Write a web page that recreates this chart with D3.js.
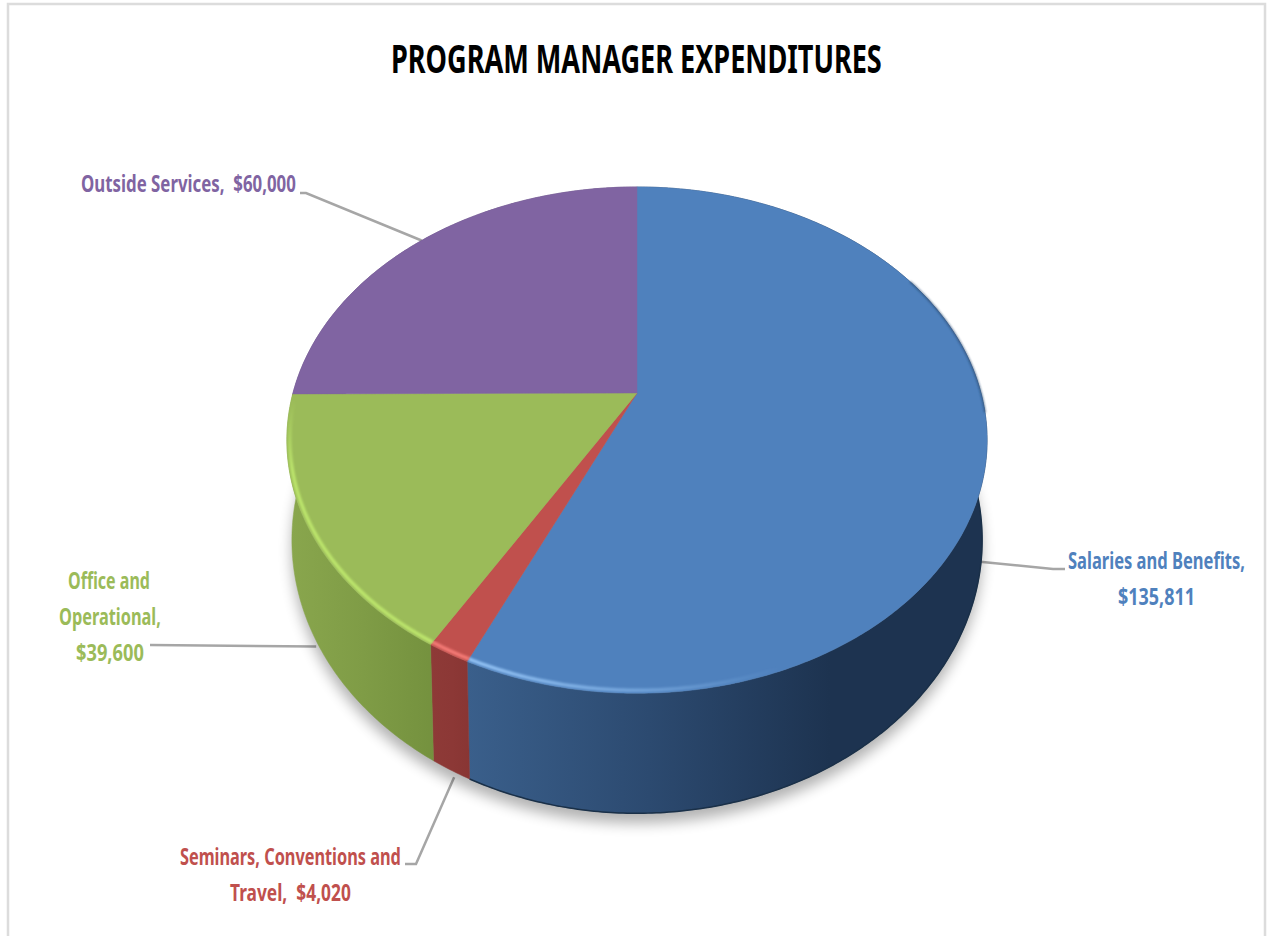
<!DOCTYPE html>
<meta charset="utf-8" />

<!-- Load d3.js -->
<script src="https://d3js.org/d3.v7.js"></script>

<style>
    body { margin: 0; background: #fff; }
    text { font-family: 'Noto Sans', sans-serif; font-weight: 700; white-space: pre; }
</style>

<!-- Create a div where the graph will take place -->
<div id="my_dataviz"></div>

<script>
    // the data, clockwise from 12 o'clock
    const categories = ['Salaries and Benefits', 'Seminars, Conventions and Travel', 'Office and Operational', 'Outside Services']
    const amounts = [135811, 4020, 39600, 60000]
    const labelLines = [
        ['Salaries and Benefits,', '$135,811'],
        ['Seminars, Conventions and', 'Travel,  $4,020'],
        ['Office and', 'Operational,', '$39,600'],
        ['Outside Services,  $60,000']
    ]
    const chartTitle = 'PROGRAM MANAGER EXPENDITURES'

    // colours of each slice: top face, rim highlight, side wall left -> right
    const topColors = ['#4f81bd', '#c0504d', '#9bbb59', '#8064a2']
    const rimColors = ['#94c4f6', '#f47a76', '#bce56c', '#8064a2']
    const wallColors = [['#3a5f8b', '#2c4a70', '#1d3350'], ['#8e3a37', '#8c3836', '#883533'], ['#89a64d', '#7f9c46', '#74913e'], ['#5f4a7a', '#5f4a7a', '#5f4a7a']]

    // where the text sits: [left, right, baseline] per line
    const labelBoxes = [
        [[1068, 1245, 569], [1118, 1195, 605]],
        [[180, 401, 865], [230, 351, 901]],
        [[68, 150, 589], [59, 161, 625], [76, 144, 661]],
        [[81, 296, 192]]
    ]
    // leader lines go from the slice out to these points
    const leaderEnds = [
        [[1053, 569], [1065, 569]],
        [[416, 864], [405, 864]],
        [[150, 645]],
        [[306, 193], [300, 193]]
    ]
    // nudge of the inner end of each leader, from the bottom rim
    const leaderNudge = [[-2, 15], [3, 7], [3, 12], [0, 0]]

    const width = 1267, height = 936

    // the top of the pie is a circle seen in perspective, hub is not in the middle of the ellipse
    const cx = 637, hubY = 393, radiusX = 344, slopeY = 171.3, tilt = -0.186
    const project = (a, r = 1) => {
        const u = Math.sin(a) * r, v = -Math.cos(a) * r
        const w = 1 + tilt * v
        return [cx + radiusX * u / w, (hubY + slopeY * v) / w]
    }

    // the bottom rim is the top rim moved down and a bit narrower
    const xLower = d3.scaleLinear().domain([287, 987]).range([292, 982])
    const yLower = d3.scaleLinear().domain([187, 693]).range([267, 813])
    const projectLower = (a) => {
        const p = project(a)
        return [xLower(p[0]), yLower(p[1])]
    }

    const arcAngles = (a0, a1) => {
        const n = Math.max(2, Math.ceil((a1 - a0) / 0.01))
        return d3.range(n + 1).map((i) => a0 + (a1 - a0) * i / n)
    }

    const line = d3.line()
    const closed = d3.line().curve(d3.curveLinearClosed)

    const slices = d3.pie().sort(null).value((d) => d)(amounts)

    const svg = d3
        .select('#my_dataviz')
        .append('svg')
        .attr('width', width)
        .attr('height', height)
        .style('display', 'block')

    const defs = svg.append('defs')
    defs.append('filter').attr('id', 'shadowBlur')
        .attr('x', '-10%').attr('y', '-10%').attr('width', '120%').attr('height', '120%')
        .append('feGaussianBlur').attr('stdDeviation', 7)
    defs.append('filter').attr('id', 'rimBlur')
        .attr('x', '-5%').attr('y', '-5%').attr('width', '110%').attr('height', '110%')
        .append('feGaussianBlur').attr('stdDeviation', 0.9)

    // wall gradients, horizontal over each slice
    const wallRanges = [[468, 830], [432, 472], [290, 436], [290, 640]]
    wallColors.forEach((colors, i) => {
        const g = defs.append('linearGradient').attr('id', 'wall' + i)
            .attr('gradientUnits', 'userSpaceOnUse')
            .attr('x1', wallRanges[i][0]).attr('x2', wallRanges[i][1])
            .attr('y1', 0).attr('y2', 0)
        colors.forEach((c, j) => {
            g.append('stop').attr('offset', j / (colors.length - 1)).attr('stop-color', c)
        })
    })
    // blue highlight dies out towards the right
    const fade = defs.append('linearGradient').attr('id', 'blueRim')
        .attr('gradientUnits', 'userSpaceOnUse')
        .attr('x1', 468).attr('x2', 780).attr('y1', 0).attr('y2', 0)
    fade.append('stop').attr('offset', 0).attr('stop-color', rimColors[0])
    fade.append('stop').attr('offset', 0.55).attr('stop-color', rimColors[0]).attr('stop-opacity', 0.5)
    fade.append('stop').attr('offset', 1).attr('stop-color', rimColors[0]).attr('stop-opacity', 0)
    // green highlight fades out going up the left side
    const fadeGreen = defs.append('linearGradient').attr('id', 'greenRim')
        .attr('gradientUnits', 'userSpaceOnUse')
        .attr('x1', 0).attr('x2', 0).attr('y1', 400).attr('y2', 470)
    fadeGreen.append('stop').attr('offset', 0).attr('stop-color', rimColors[2]).attr('stop-opacity', 0)
    fadeGreen.append('stop').attr('offset', 1).attr('stop-color', rimColors[2])

    // chart frame, open at the bottom
    svg.append('path')
        .attr('d', line([[8, height], [8, 4], [1265, 4], [1265, height]]))
        .attr('fill', 'none')
        .attr('stroke', '#dcdcdc')
        .attr('stroke-width', 2.5)

    // squeeze a text horizontally so it fills its box, the original font is narrow
    const fitText = (sel, box) => {
        const natural = sel.node().getComputedTextLength()
        sel.attr('transform', `translate(${box[0]},${box[2]}) scale(${(box[1] - box[0]) / natural},1)`)
    }

    // title
    svg.append('text')
        .attr('font-size', 40)
        .attr('fill', '#000')
        .text(chartTitle)
        .call(fitText, [391, 882, 73])

    // leader lines, under the pie
    slices.forEach((d, i) => {
        const mid = (d.startAngle + d.endAngle) / 2
        // the back slice hooks on the top rim, the others on the wall
        const rim = i === 3 ? project(mid) : projectLower(mid)
        const start = [rim[0] + leaderNudge[i][0], rim[1] + leaderNudge[i][1]]
        svg.append('path')
            .attr('d', line([start, ...leaderEnds[i]]))
            .attr('fill', 'none')
            .attr('stroke', '#a6a6a6')
            .attr('stroke-width', 2.5)
    })

    // soft shadow under the bottom rim
    svg.append('path')
        .attr('d', closed(arcAngles(0, 2 * Math.PI).map((a) => {
            const p = projectLower(a)
            return [p[0], p[1] + 10]
        })))
        .attr('fill', '#000')
        .attr('opacity', 0.3)
        .attr('filter', 'url(#shadowBlur)')

    // side walls first, the top faces cover their back part
    svg.append('g')
        .selectAll('path')
        .data(slices)
        .join('path')
        .attr('d', (d) => {
            const angles = arcAngles(d.startAngle, d.endAngle)
            return closed([...angles.map((a) => project(a)), ...angles.slice().reverse().map(projectLower)])
        })
        .attr('fill', (d, i) => `url(#wall${i})`)
        .attr('stroke', (d, i) => `url(#wall${i})`)
        .attr('stroke-width', 0.5)

    // dark line along the bottom of the blue wall
    svg.append('path')
        .attr('d', line(arcAngles(slices[0].startAngle + 1.6, slices[0].endAngle).map(projectLower)))
        .attr('fill', 'none')
        .attr('stroke', '#1a3048')
        .attr('stroke-width', 1.5)

    // top faces
    svg.append('g')
        .selectAll('path')
        .data(slices)
        .join('path')
        .attr('d', (d) => closed([[cx, hubY], ...arcAngles(d.startAngle, d.endAngle).map((a) => project(a))]))
        .attr('fill', (d, i) => topColors[i])
        .attr('stroke', (d, i) => topColors[i])
        .attr('stroke-width', 0.5)

    // dark edge on the upper right of the blue face
    svg.append('path')
        .attr('d', line(arcAngles(1.05, 1.65).map((a) => project(a))))
        .attr('fill', 'none')
        .attr('stroke', '#2b4a70')
        .attr('stroke-width', 1.3)
        .attr('filter', 'url(#rimBlur)')

    // bevel highlight on the front edge of the top face
    const rimStrokes = ['url(#blueRim)', rimColors[1], 'url(#greenRim)']
    slices.slice(0, 3).forEach((d, i) => {
        const from = i === 0 ? d.startAngle + 1.9 : d.startAngle
        svg.append('path')
            .attr('d', line(arcAngles(from, d.endAngle).map((a) => project(a, 0.992))))
            .attr('fill', 'none')
            .attr('stroke', rimStrokes[i])
            .attr('stroke-width', 3.5)
            .attr('filter', 'url(#rimBlur)')
    })

    // data labels, each line fitted to its width
    categories.forEach((name, i) => {
        const g = svg.append('g').attr('class', 'label').attr('data-category', name)
        labelLines[i].forEach((t, j) => {
            g.append('text')
                .attr('font-size', 23)
                .attr('fill', topColors[i])
                .text(t)
                .call(fitText, labelBoxes[i][j])
        })
    })
</script>
